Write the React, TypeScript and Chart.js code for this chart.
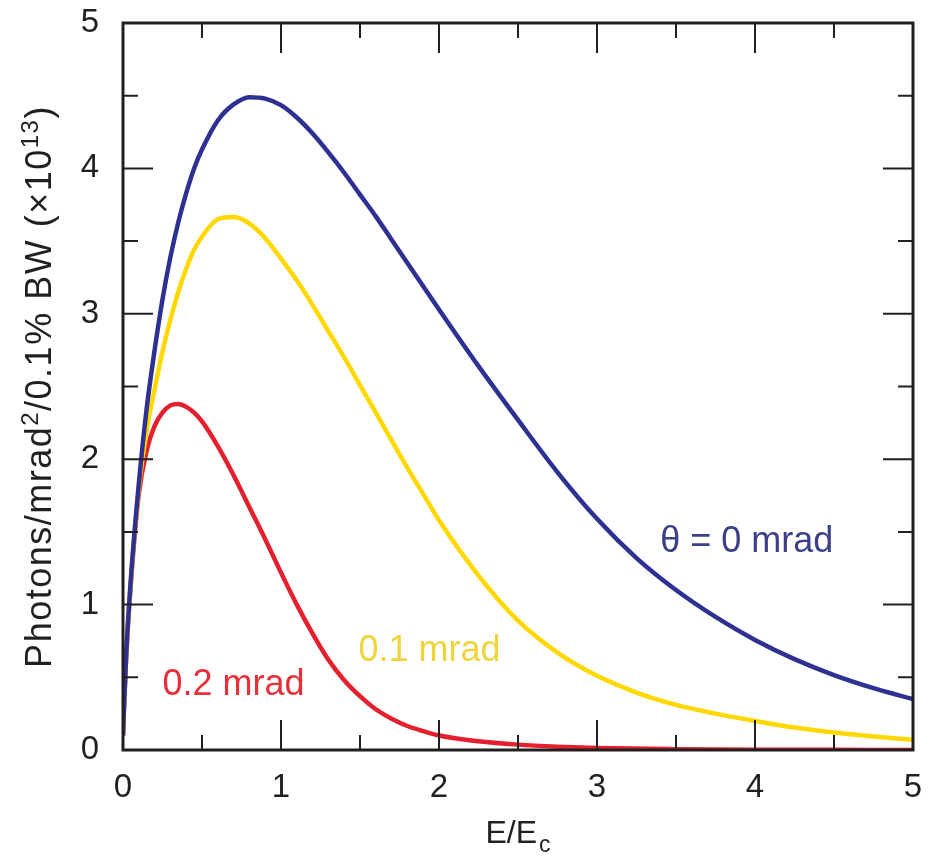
import React, { useEffect, useRef } from "react";
import { Chart, registerables } from "chart.js";

Chart.register(...registerables);

// axis ticks
const xTicks = [0, 1, 2, 3, 4, 5];
const yTicks = [0, 1, 2, 3, 4, 5];

// θ = 0 mrad (blue)
const blueX = [0, 0.005, 0.02, 0.05, 0.1, 0.15, 0.2, 0.25, 0.3, 0.35, 0.4, 0.45, 0.5, 0.6, 0.7, 0.8, 0.9, 1.0, 1.1, 1.2, 1.3, 1.4, 1.5, 1.6, 1.7, 1.8, 1.9, 2.0, 2.25, 2.5, 2.75, 3.0, 3.25, 3.5, 3.75, 4.0, 4.25, 4.5, 4.75, 5.0];
const blueY = [0.1, 0.26, 0.65, 1.18, 1.83, 2.35, 2.75, 3.1, 3.39, 3.63, 3.83, 4.0, 4.13, 4.33, 4.44, 4.49, 4.48, 4.435, 4.35, 4.24, 4.11, 3.97, 3.82, 3.67, 3.51, 3.35, 3.19, 3.03, 2.64, 2.27, 1.91, 1.59, 1.32, 1.1, 0.915, 0.757, 0.625, 0.515, 0.425, 0.35];

// 0.1 mrad (yellow)
const yellowX = [0, 0.005, 0.02, 0.05, 0.1, 0.15, 0.2, 0.25, 0.3, 0.35, 0.4, 0.45, 0.5, 0.6, 0.7, 0.8, 0.9, 1.0, 1.1, 1.2, 1.3, 1.4, 1.5, 1.6, 1.7, 1.8, 1.9, 2.0, 2.25, 2.5, 2.75, 3.0, 3.25, 3.5, 3.75, 4.0, 4.25, 4.5, 4.75, 5.0];
const yellowY = [0.1, 0.26, 0.65, 1.17, 1.8, 2.2, 2.48, 2.74, 2.96, 3.15, 3.31, 3.44, 3.53, 3.65, 3.665, 3.62, 3.52, 3.38, 3.23, 3.06, 2.88, 2.7, 2.51, 2.32, 2.13, 1.94, 1.76, 1.58, 1.2, 0.89, 0.67, 0.51, 0.395, 0.31, 0.25, 0.2, 0.155, 0.12, 0.093, 0.07];

// 0.2 mrad (red)
const redX = [0, 0.005, 0.02, 0.05, 0.1, 0.15, 0.2, 0.25, 0.3, 0.35, 0.4, 0.45, 0.5, 0.6, 0.7, 0.8, 0.9, 1.0, 1.1, 1.2, 1.3, 1.4, 1.5, 1.6, 1.7, 1.8, 1.9, 2.0, 2.25, 2.5, 2.75, 3.0, 3.5, 4.0, 4.5, 5.0];
const redY = [0.1, 0.26, 0.64, 1.15, 1.76, 2.06, 2.23, 2.32, 2.37, 2.38, 2.36, 2.32, 2.26, 2.09, 1.89, 1.67, 1.45, 1.22, 1.0, 0.8, 0.62, 0.48, 0.37, 0.28, 0.215, 0.165, 0.13, 0.1, 0.06, 0.037, 0.023, 0.014, 0.006, 0.002, 0.001, 0.0];

// in-plot curve labels (data coordinates of the left end of the baseline)
const curveLabels = ["θ = 0 mrad", "0.1 mrad", "0.2 mrad"];
const curveLabelX = [3.4, 1.49, 0.25];
const curveLabelY = [1.36, 0.61, 0.38];

const BLUE = "#2e3192";
const YELLOW = "#ffd800";
const RED = "#e5202e";
const LABEL_COLORS = ["#3c4089", "#efd43c", "#e8303a"];
const INK = "#231f20";
const FONT = "'Liberation Sans', Arial, Helvetica, sans-serif";

export default function App() {
  const ref = useRef<HTMLCanvasElement>(null);

  useEffect(() => {
    document.body.style.margin = "0";
    const canvas = ref.current;
    if (!canvas) return;
    const pts = (xs: number[], ys: number[]) => xs.map((x, i) => ({ x, y: ys[i] }));

    const decor = {
      id: "decor",
      afterDraw(chart: any) {
        const { ctx, chartArea: a, scales } = chart;
        const sx = scales.x;
        const sy = scales.y;
        ctx.save();
        // inward ticks
        ctx.strokeStyle = INK;
        ctx.lineWidth = 2;
        ctx.beginPath();
        for (let i = 0; i <= 10; i++) {
          const v = i / 2;
          const L = i % 2 === 0 ? 30 : 15;
          const px = sx.getPixelForValue(v);
          const py = sy.getPixelForValue(v);
          ctx.moveTo(px, a.bottom);
          ctx.lineTo(px, a.bottom - L);
          ctx.moveTo(px, a.top);
          ctx.lineTo(px, a.top + L);
          ctx.moveTo(a.left, py);
          ctx.lineTo(a.left + L, py);
          ctx.moveTo(a.right, py);
          ctx.lineTo(a.right - L, py);
        }
        ctx.stroke();
        // frame
        ctx.lineWidth = 3;
        ctx.strokeRect(a.left, a.top, a.right - a.left, a.bottom - a.top);

        // curve labels
        ctx.font = `36px ${FONT}`;
        ctx.textAlign = "left";
        ctx.textBaseline = "alphabetic";
        curveLabels.forEach((t, i) => {
          ctx.fillStyle = LABEL_COLORS[i];
          ctx.fillText(t, sx.getPixelForValue(curveLabelX[i]), sy.getPixelForValue(curveLabelY[i]));
        });

        // x title E/E_c
        ctx.fillStyle = INK;
        ctx.font = `32px ${FONT}`;
        const main = "E/E";
        const wMain = ctx.measureText(main).width;
        ctx.font = `23px ${FONT}`;
        const wSub = ctx.measureText("c").width;
        const cx = (a.left + a.right) / 2;
        const x0 = cx - (wMain + wSub + 2) / 2;
        ctx.font = `32px ${FONT}`;
        ctx.fillText(main, x0, 843);
        ctx.font = `23px ${FONT}`;
        ctx.fillText("c", x0 + wMain + 2, 852);

        // y title (rotated, rich text)
        const parts = [
          { t: "Photons/mrad", sup: false },
          { t: "2", sup: true },
          { t: "/0.1% BW (×10", sup: false },
          { t: "13", sup: true },
          { t: ")", sup: false },
        ];
        const mainSize = 36;
        const supSize = 24;
        (ctx as any).letterSpacing = "1.5px";
        let total = 0;
        const widths = parts.map((p) => {
          ctx.font = `${p.sup ? supSize : mainSize}px ${FONT}`;
          const w = ctx.measureText(p.t).width;
          total += w;
          return w;
        });
        ctx.translate(51, (a.top + a.bottom) / 2);
        ctx.rotate(-Math.PI / 2);
        let xx = -total / 2;
        parts.forEach((p, i) => {
          ctx.font = `${p.sup ? supSize : mainSize}px ${FONT}`;
          ctx.fillText(p.t, xx, p.sup ? -13 : 0);
          xx += widths[i];
        });
        ctx.restore();
      },
    };

    const chart = new Chart(canvas, {
      type: "scatter",
      data: {
        datasets: [
          { label: "θ = 0 mrad", data: pts(blueX, blueY), borderColor: BLUE },
          { label: "0.1 mrad", data: pts(yellowX, yellowY), borderColor: YELLOW },
          { label: "0.2 mrad", data: pts(redX, redY), borderColor: RED },
        ].map((d) => ({
          ...d,
          showLine: true,
          borderWidth: 4.5,
          pointRadius: 0,
          pointHoverRadius: 0,
          cubicInterpolationMode: "monotone" as const,
          fill: false,
        })),
      },
      options: {
        responsive: false,
        animation: false,
        events: [],
        layout: { padding: { top: 23, right: 16, left: 0, bottom: 0 } },
        plugins: { legend: { display: false }, tooltip: { enabled: false } },
        scales: {
          x: {
            type: "linear",
            min: 0,
            max: 5,
            afterBuildTicks: (s: any) => {
              s.ticks = xTicks.map((v) => ({ value: v }));
            },
            afterFit: (s: any) => {
              s.height = 116;
              s.paddingLeft = 0;
              s.paddingRight = 0;
              s.paddingTop = 0;
              s.paddingBottom = 0;
            },
            grid: { display: false },
            border: { display: false },
            ticks: { color: INK, font: { size: 33, family: FONT }, padding: 10 },
          },
          y: {
            type: "linear",
            min: 0,
            max: 5,
            afterBuildTicks: (s: any) => {
              s.ticks = yTicks.map((v) => ({ value: v }));
            },
            afterFit: (s: any) => {
              s.width = 123;
              s.paddingLeft = 0;
              s.paddingRight = 0;
              s.paddingTop = 0;
              s.paddingBottom = 0;
            },
            grid: { display: false },
            border: { display: false },
            ticks: { color: INK, font: { size: 33, family: FONT }, padding: 16 },
          },
        },
      },
      plugins: [decor],
    });
    return () => chart.destroy();
  }, []);

  return (
    <div style={{ width: 929, height: 866, background: "#fff" }}>
      <canvas ref={ref} width={929} height={866} style={{ display: "block" }} />
    </div>
  );
}
